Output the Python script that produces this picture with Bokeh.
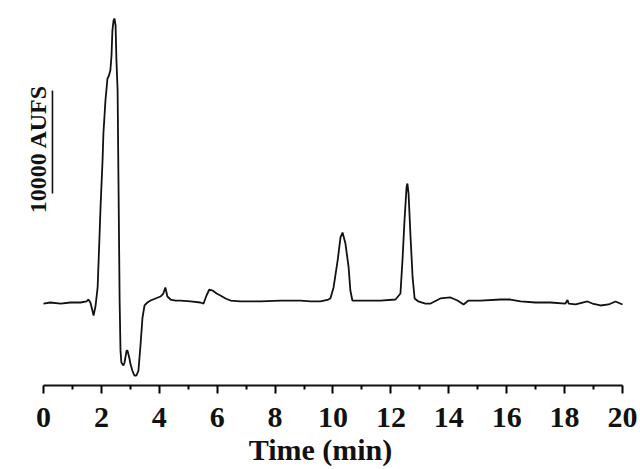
import math
from bokeh.plotting import figure
from bokeh.models import FixedTicker, Label, Range1d, ColumnDataSource
from bokeh.embed import file_html
from bokeh.resources import INLINE

# Retention time (min) and detector signal (AUFS, baseline = 0)
time_min = [0.00, 0.24, 0.59, 0.93, 1.28, 1.49, 1.55, 1.62, 1.69, 1.73, 1.80, 1.87, 1.93, 1.97,
            2.04, 2.07, 2.14, 2.21, 2.25, 2.31, 2.35, 2.38, 2.42, 2.45, 2.49, 2.52, 2.56, 2.59,
            2.63, 2.66, 2.69, 2.76, 2.80, 2.87, 2.90, 2.97, 3.00, 3.07, 3.14, 3.21, 3.28, 3.35,
            3.42, 3.49, 3.59, 3.70, 3.87, 4.04, 4.14, 4.21, 4.28, 4.39, 4.56, 4.73, 5.08, 5.42,
            5.53, 5.63, 5.73, 5.84, 5.98, 6.11, 6.29, 6.46, 6.80, 7.50, 8.19, 8.88, 9.22, 9.57,
            9.84, 9.91, 10.02, 10.16, 10.26, 10.33, 10.43, 10.54, 10.60, 10.67, 10.95, 11.64,
            12.16, 12.33, 12.40, 12.47, 12.54, 12.57, 12.61, 12.68, 12.75, 12.82, 12.95, 13.19,
            13.37, 13.71, 14.06, 14.30, 14.51, 14.68, 15.09, 15.79, 16.13, 16.48, 16.99, 17.51,
            18.03, 18.10, 18.14, 18.38, 18.79, 18.96, 19.24, 19.52, 19.76, 20.00]
signal_aufs = [-100, 0, -100, 0, 0, 100, 290, 0, -780, -1260, -290, 1460, 6010, 9220,
               13770, 16390, 19590, 21730, 21920, 22500, 23960, 26380, 27350, 27550, 26870, 23470, 20560, 11830,
               190, -4660, -5820, -6110, -5820, -4660, -4660, -5430, -5920, -6600, -7080, -7080, -6600, -4170,
               -1460, -290, 0, 190, 390, 580, 870, 1460, 580, 290, 190, 190, 100, 0,
               -100, 680, 1260, 1160, 870, 680, 390, 190, 100, 100, 190, 190, 100, 100,
               290, 390, 1460, 4070, 6310, 6790, 5720, 3400, 1160, 190, 190, 190,
               290, 870, 4070, 7950, 11160, 11540, 10570, 6310, 2430, 390, 100, -100,
               -100, 390, 490, 190, -190, 190, 190, 290, 290, 100, 0, 0,
               -100, 250, -100, -190, 100, -100, -290, -190, 100, -190]

x_ticks = [0, 2, 4, 6, 8, 10, 12, 14, 16, 18, 20]
x_minor = [1, 3, 5, 7, 9, 11, 13, 15, 17, 19]

scale_bar_x = 0.31
scale_bar_y0 = 10570
scale_bar_len = 10000
scale_label = "10000 AUFS"
scale_label_x = -0.19
scale_label_y = 14900

FONT = "Liberation Serif"

p = figure(width=640, height=469, output_backend="svg", toolbar_location=None,
           x_range=Range1d(-1.485, 20.622), y_range=Range1d(-8051, 29294),
           y_axis_location=None, min_border_left=0, min_border_right=0,
           min_border_top=0, min_border_bottom=84)
p.outline_line_color = None
p.xgrid.visible = False
p.ygrid.visible = False
p.background_fill_color = "white"
p.border_fill_color = "white"

src = ColumnDataSource(dict(t=time_min, s=signal_aufs))
p.line("t", "s", source=src, line_color="#111111", line_width=1.8)

# scale bar
p.segment(x0=[scale_bar_x], y0=[scale_bar_y0], x1=[scale_bar_x],
          y1=[scale_bar_y0 + scale_bar_len], line_color="#111111", line_width=1.6)
p.add_layout(Label(x=scale_label_x, y=scale_label_y, text=scale_label,
                   angle=math.pi / 2, text_align="center", text_baseline="middle",
                   text_font=FONT, text_font_style="bold", text_font_size="24px",
                   text_color="#111111"))

ax = p.xaxis[0]
ax.ticker = FixedTicker(ticks=x_ticks, minor_ticks=x_minor)
ax.bounds = (0, 20)
ax.axis_line_width = 2
ax.axis_line_color = "#111111"
ax.major_tick_in = 0
ax.major_tick_out = 8
ax.major_tick_line_width = 2
ax.minor_tick_in = 0
ax.minor_tick_out = 4
ax.minor_tick_line_width = 2
ax.major_label_text_font = FONT
ax.major_label_text_font_style = "bold"
ax.major_label_text_font_size = "30px"
ax.major_label_text_color = "#111111"
ax.major_label_standoff = 14
ax.axis_label = "Time (min)"
ax.axis_label_text_font = FONT
ax.axis_label_text_font_style = "bold"
ax.axis_label_text_font_size = "30px"
ax.axis_label_text_color = "#111111"
ax.axis_label_standoff = 3

open("out.html", "w").write(file_html(p, INLINE))
